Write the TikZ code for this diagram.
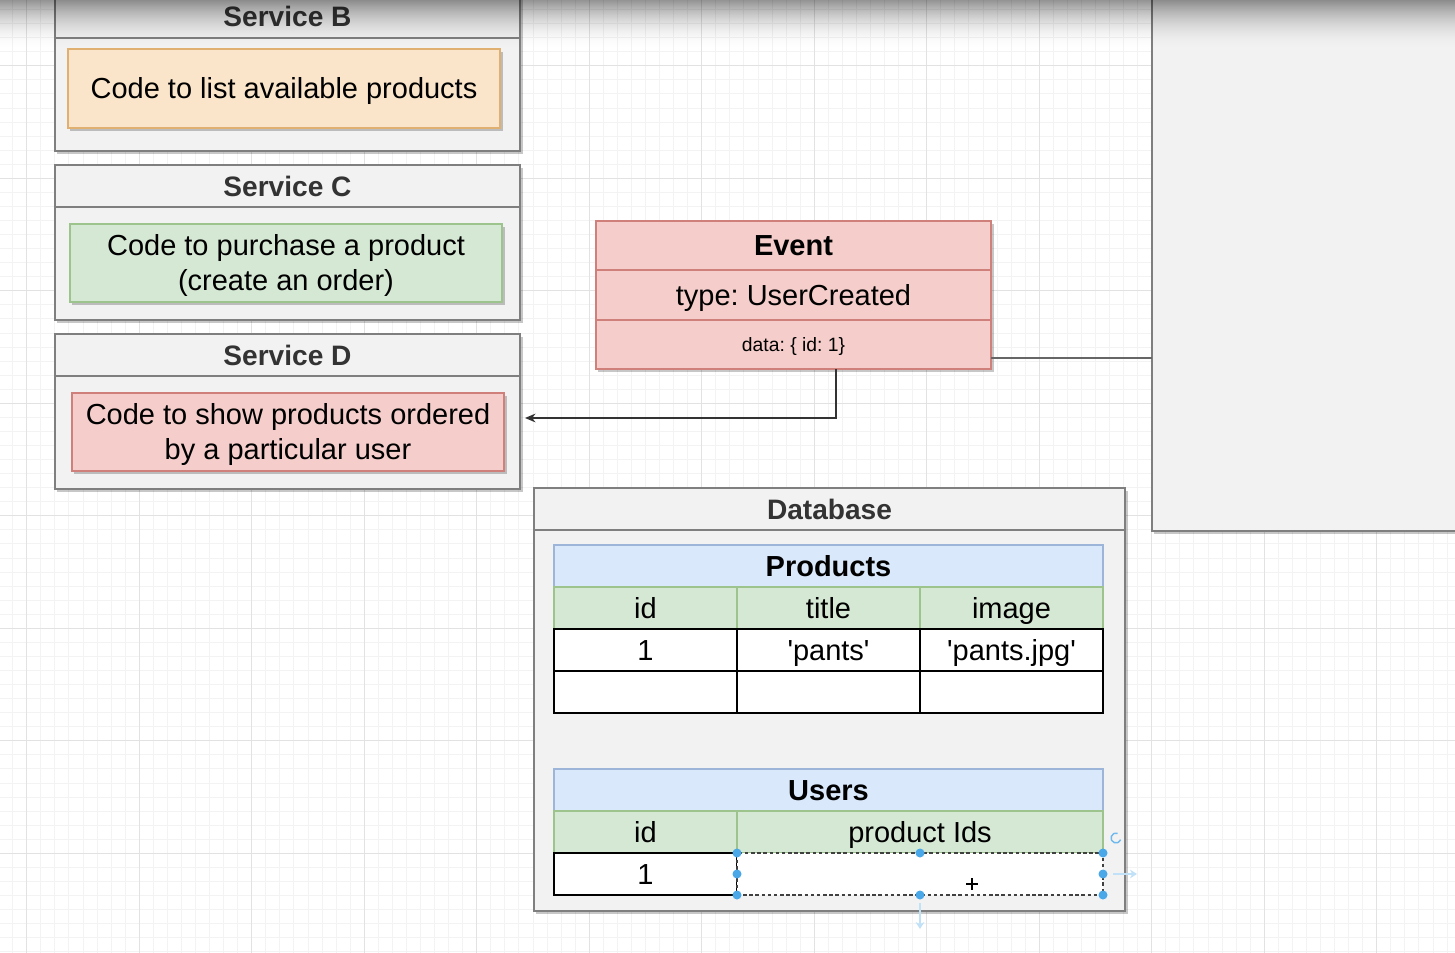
\documentclass[tikz,border=0pt]{standalone}
\usepackage{fontspec}
\setmainfont{Liberation Sans}
\usetikzlibrary{calc,fit,arrows.meta}
\frenchspacing

\definecolor{panelgray}{HTML}{F2F2F2}
\definecolor{panelrule}{HTML}{7F7F7F}
\definecolor{titlegray}{HTML}{333333}
\definecolor{orangefill}{HTML}{FBE5CA}
\definecolor{orangeline}{HTML}{E0B070}
\definecolor{greenfill}{HTML}{D5E8D4}
\definecolor{greenline}{HTML}{9CC48C}
\definecolor{redfill}{HTML}{F5CECB}
\definecolor{redline}{HTML}{D0807A}
\definecolor{bluefill}{HTML}{DAE8FC}
\definecolor{blueline}{HTML}{9DB5D8}
\definecolor{handleblue}{HTML}{4AA8E8}
\definecolor{gridlight}{HTML}{F3F3F3}
\definecolor{griddark}{HTML}{E2E2E2}

\tikzset{
  pxbox/.style={rectangle, inner sep=0pt, outer sep=0pt},
  panelbox/.style={pxbox, fill=panelgray, draw=panelrule, line width=0.9pt},
  paneltitle/.style={font=\fontsize{16}{19}\selectfont\bfseries, text=titlegray, text height=14pt, text depth=2.5pt},
  codebox/.style={pxbox, line width=0.9pt},
  codetext/.style={align=center, inner sep=0pt, yshift=-0.05cm, font=\fontsize{16.5}{19.8}\selectfont},
  cellbox/.style={pxbox, line width=0.9pt},
  celltext/.style={inner sep=0pt, text height=14.5pt, text depth=2.6pt, font=\fontsize{16.5}{19.8}\selectfont},
  evhead/.style={cellbox, fill=redfill, draw=redline},
  evrow/.style={cellbox, fill=redfill, draw=redline},
  tabtitle/.style={cellbox, fill=bluefill, draw=blueline},
  tabhead/.style={cellbox, fill=greenfill, draw=greenline},
  tabdata/.style={cellbox, fill=white, draw=black, line width=1.1pt},
  tabsel/.style={cellbox, fill=white, draw=black!75, line width=0.7pt, dash pattern=on 2pt off 1.5pt},
  boldtext/.style={celltext, font=\fontsize{16.5}{19.8}\selectfont\bfseries},
  smalltext/.style={inner sep=0pt, text height=9.5pt, text depth=1.6pt, font=\fontsize{11}{13}\selectfont},
  gridline/.style={draw=gridlight, line width=0.5pt},
  gridmajor/.style={draw=griddark, line width=0.7pt},
  flow/.style={draw=black!80, line width=0.8pt, -{Stealth[length=6pt,width=5pt]}},
  link/.style={draw=black!60, line width=0.8pt},
}

\newcommand{\dropshade}[4]{\fill[black, opacity=0.22] (#1+2,#2+3) rectangle (#3+3,#4+3);}
\newcommand{\panel}[7]{\dropshade{#2}{#3}{#4}{#5} \node[panelbox, fit={(#2,#3) (#4,#5)}] (#1) {}; \draw[panelrule, line width=0.9pt] (#2,#6) -- (#4,#6); \node[paneltitle] at ($(#2,#3)!0.5!(#4,#6)$) {#7};}
\newcommand{\codebox}[8]{\dropshade{#2}{#3}{#4}{#5} \node[codebox, fill=#6, draw=#7, fit={(#2,#3) (#4,#5)}] (#1) {}; \node[codetext] at (#1.center) {#8};}
\newcommand{\tcell}[8]{\node[#6, fit={(#2,#3) (#4,#5)}] (#1) {}; \node[#7] at (#1.center) {#8};}

\begin{document}
\begin{tikzpicture}[x=0.02cm, y=-0.02cm]
  \useasboundingbox (0,0) rectangle (1455,953);
  \clip (0,0) rectangle (1455,953);

  % grid
  \foreach \k in {0,...,103} \draw[gridline] ({12.64+14.0625*\k},0) -- ++(0,953);
  \foreach \k in {0,...,68} \draw[gridline] (0,{9.55+14.0625*\k}) -- ++(1455,0);
  \foreach \k in {0,...,12} \draw[gridmajor] ({26.7+112.5*\k},0) -- ++(0,953);
  \foreach \k in {0,...,8} \draw[gridmajor] (0,{65.8+112.5*\k}) -- ++(1455,0);

  % services
  \panel{svcB}{55}{-5}{520}{151}{38}{Service B}
  \codebox{codeB}{68}{49}{500}{128}{orangefill}{orangeline}{Code to list available products}
  \panel{svcC}{55}{165}{520}{320}{207}{Service C}
  \codebox{codeC}{70}{224}{502}{302}{greenfill}{greenline}{Code to purchase a product\\(create an order)}
  \panel{svcD}{55}{334}{520}{489}{376}{Service D}
  \codebox{codeD}{72}{393}{504}{471}{redfill}{redline}{Code to show products ordered\\by a particular user}

  % right panel
  \dropshade{1152}{-5}{1465}{531}
  \node[panelbox, fit={(1152,-5) (1465,531)}] (rpanel) {};

  % event
  \dropshade{596}{221}{991}{369}
  \tcell{evtitle}{596}{221}{991}{270}{evhead}{boldtext}{Event}
  \tcell{evtype}{596}{270}{991}{320}{evrow}{celltext}{type: UserCreated}
  \tcell{evdata}{596}{320}{991}{369}{evrow}{smalltext}{data: \{ id: 1\}}

  % database
  \panel{db}{534}{488}{1125}{911}{530}{Database}
  \tcell{prodT}{554}{545}{1103}{587}{tabtitle}{boldtext}{Products}
  \tcell{prodH1}{554}{587}{737}{629}{tabhead}{celltext}{id}
  \tcell{prodH2}{737}{587}{920}{629}{tabhead}{celltext}{title}
  \tcell{prodH3}{920}{587}{1103}{629}{tabhead}{celltext}{image}
  \tcell{prodA1}{554}{629}{737}{671}{tabdata}{celltext}{1}
  \tcell{prodA2}{737}{629}{920}{671}{tabdata}{celltext}{\textquotesingle pants\textquotesingle}
  \tcell{prodA3}{920}{629}{1103}{671}{tabdata}{celltext}{\textquotesingle pants.jpg\textquotesingle}
  \tcell{prodB1}{554}{671}{737}{713}{tabdata}{celltext}{}
  \tcell{prodB2}{737}{671}{920}{713}{tabdata}{celltext}{}
  \tcell{prodB3}{920}{671}{1103}{713}{tabdata}{celltext}{}

  \tcell{userT}{554}{769}{1103}{811}{tabtitle}{boldtext}{Users}
  \tcell{userH1}{554}{811}{737}{853}{tabhead}{celltext}{id}
  \tcell{userH2}{737}{811}{1103}{853}{tabhead}{celltext}{product Ids}
  \tcell{userA1}{554}{853}{737}{895}{tabdata}{celltext}{1}
  \tcell{userSel}{737}{853}{1103}{895}{tabsel}{celltext}{}

  % selection handles
  \foreach \a in {north west, north, north east, west, east, south west, south, south east}
    \fill[handleblue] (userSel.\a) circle (0.09cm);
  \draw[handleblue!80, line width=0.8pt] ($(userSel.north east)+(13,-15)$) ++(70:0.1cm) arc (70:340:0.1cm);
  \draw[handleblue!35, line width=1.6pt, -{Stealth[length=4pt,width=5pt]}] ($(userSel.east)+(10,0)$) -- ++(24,0);
  \draw[handleblue!35, line width=1.6pt, -{Stealth[length=4pt,width=5pt]}] ($(userSel.south)+(0,8)$) -- ++(0,26);
  \draw[black, line width=0.9pt] (966,884) -- (978,884) (972,878) -- (972,890);

  % connectors
  \draw[flow] ([xshift=0.85cm]evdata.south) |- ([xshift=0.1cm,yshift=-0.13cm]svcD.east);
  \draw[link] ([yshift=-0.27cm]evdata.east) -- ([yshift=-0.27cm]evdata.east -| rpanel.west);

  % toolbar shadow
  \foreach \i in {0,...,49}{
    \pgfmathsetmacro\op{0.42*(1-\i/50)^2}
    \fill[black, opacity=\op] (0,\i) rectangle (1455,\i+1);
  }
\end{tikzpicture}
\end{document}
